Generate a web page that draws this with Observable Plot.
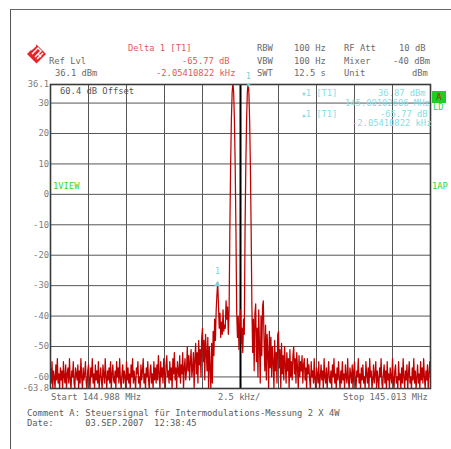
<!DOCTYPE html>
<html>
<head>
<meta charset="utf-8">
<script src="https://cdn.jsdelivr.net/npm/d3@7"></script>
<script src="https://cdn.jsdelivr.net/npm/@observablehq/plot@0.6"></script>
<style>
html,body{margin:0;padding:0;background:#fff;}
#wrap{position:relative;width:451px;height:449px;overflow:hidden;font-family:"DejaVu Sans Mono",monospace;font-size:8.8px;}
#wrap svg{position:absolute;left:0;top:0;}
.t{position:absolute;white-space:pre;line-height:8.8px;z-index:2;}
.g{color:#6a6a6a;}
.r{color:#e05a5a;}
.c{color:#86dde4;}
.gr{color:#33d633;}
#border{position:absolute;left:10px;top:9px;width:460px;height:460px;border-top:1px solid #666;border-left:1px solid #555;}
</style>
</head>
<body>
<div id="wrap">
  <div id="border"></div>
  <svg width="451" height="449" style="z-index:3" id="logo">
    <polygon points="36.5,44.5 46,54 36.5,63.5 27,54" fill="#e2262a"/>
    <polyline points="31,50 36,45.5" stroke="#fff" stroke-width="1.4" fill="none"/>
    <polyline points="32,54 38,48 41,51 35,57" stroke="#fff" stroke-width="1.4" fill="none"/>
    <polyline points="37,59 43,53" stroke="#fff" stroke-width="1.4" fill="none"/>
    <polyline points="38,54 41,57" stroke="#fff" stroke-width="1.2" fill="none"/>
  </svg>

  <div class="t g" style="left:49px;top:56.5px">Ref Lvl</div>
  <div class="t g" style="left:55px;top:68.5px">36.1 dBm</div>
  <div class="t r" style="left:128px;top:43.5px">Delta 1 [T1]</div>
  <div class="t r" style="left:182px;top:56.5px">-65.77 dB</div>
  <div class="t r" style="left:156px;top:68.5px">-2.05410822 kHz</div>

  <div class="t g" style="left:257px;top:43.5px">RBW</div>
  <div class="t g" style="left:294px;top:43.5px">100 Hz</div>
  <div class="t g" style="left:344px;top:43.5px">RF Att</div>
  <div class="t g" style="left:399px;top:43.5px">10 dB</div>
  <div class="t g" style="left:257px;top:56.5px">VBW</div>
  <div class="t g" style="left:294px;top:56.5px">100 Hz</div>
  <div class="t g" style="left:344px;top:56.5px">Mixer</div>
  <div class="t g" style="left:393px;top:56.5px">-40 dBm</div>
  <div class="t g" style="left:257px;top:68.5px">SWT</div>
  <div class="t g" style="left:294px;top:68.5px">12.5 s</div>
  <div class="t g" style="left:344px;top:68.5px">Unit</div>
  <div class="t g" style="left:412px;top:68.5px">dBm</div>

  <div class="t" style="left:60px;top:86.5px;color:#555">60.4 dB Offset</div>

  <div class="t c" style="left:302px;top:88.5px"><span style="font-size:6px">▼</span>1 [T1]</div>
  <div class="t c" style="left:378px;top:88.5px">36.87 dBm</div>
  <div class="t c" style="left:345px;top:99px">145.00102606 MHz</div>
  <div class="t c" style="left:302px;top:109.5px"><span style="font-size:6px">▲</span>1 [T1]</div>
  <div class="t c" style="left:380px;top:109.5px">-65.77 dB</div>
  <div class="t c" style="left:352px;top:118.5px">-2.05410822 kHz</div>

  <div class="t" style="left:432px;top:91px;width:14px;height:12px;background:#22cc22;color:#a03010;text-align:center;line-height:12px">A</div>
  <div class="t gr" style="left:433px;top:102.5px">LD</div>
  <div class="t gr" style="left:53px;top:181.5px">1VIEW</div>
  <div class="t gr" style="left:432px;top:181.5px">1AP</div>

  <div class="t g" style="left:51px;top:392.5px">Start 144.988 MHz</div>
  <div class="t g" style="left:218px;top:392.5px">2.5 kHz/</div>
  <div class="t g" style="left:343px;top:392.5px">Stop 145.013 MHz</div>

  <div class="t" style="left:27px;top:408.5px;color:#5a5a5a">Comment A: Steuersignal für Intermodulations-Messung 2 X 4W</div>
  <div class="t" style="left:27px;top:418.5px;color:#5a5a5a">Date:      03.SEP.2007  12:38:45</div>
</div>
<script>
// Sweep settings (MHz)
const fStart = 144.988;
const fStop = 145.013;
const fStep = 0.00005;           // 501 sweep points
const refLevel = 36.1;
const bottomLevel = -63.8;
const centerFreq = 145.0005;

// Grid and tick labels
const xGrid = [144.988, 144.9905, 144.993, 144.9955, 144.998, 145.0005, 145.003, 145.0055, 145.008, 145.0105, 145.013];
const yGrid = [30, 20, 10, 0, -10, -20, -30, -40, -50, -60];
const yTicks = [36.1, 30, 20, 10, 0, -10, -20, -30, -40, -50, -60, -63.8];

// Markers
const marker1 = [{f: 145.00102606, db: 36.87}];
const deltaMarker = [{f: 144.99897195, db: -28.9}];

// Trace levels (dBm), one per sweep point
const traceDb = [
-57,-62,-55,-64,-58,-60,-64,-56,-61,-54,
-62,-59,-64,-57,-61,-58,-64,-55,-60,-62,
-56,-64,-59,-57,-62,-54,-61,-64,-58,-60,
-55,-62,-64,-57,-59,-61,-56,-64,-58,-62,
-54,-60,-64,-57,-61,-59,-55,-62,-64,-58,
-56,-61,-64,-57,-60,-54,-62,-59,-64,-56,
-61,-58,-62,-55,-64,-60,-57,-61,-64,-56,
-59,-62,-54,-60,-64,-58,-61,-57,-62,-55,
-64,-59,-56,-61,-62,-58,-64,-55,-60,-57,
-62,-54,-61,-64,-59,-56,-62,-58,-60,-64,
-55,-61,-57,-62,-59,-64,-56,-60,-54,-62,
-58,-61,-64,-57,-59,-55,-62,-60,-64,-56,
-61,-58,-54,-62,-59,-64,-57,-60,-55,-61,
-64,-58,-56,-62,-59,-64,-55,-61,-57,-62,
-56,-61,-53,-59,-64,-55,-60,-57,-62,-54,
-59,-64,-56,-53,-60,-58,-62,-55,-61,-57,
-64,-54,-59,-52,-61,-57,-64,-55,-58,-60,
-53,-62,-56,-59,-52,-64,-57,-54,-61,-58,
-50,-58,-53,-61,-55,-51,-60,-57,-52,-64,
-54,-49,-59,-52,-62,-48,-56,-51,-60,-47,
-44,-55,-48,-61,-46,-52,-58,-47,-64,-50,
-57,-64,-49,-62,-45,-53,-41,-48,-38,-33,
-28.9,-36,-44,-39,-47,-42,-46,-38,-45,-43,
-44,-35,-41,-37,-46,-38,-11.5,9.5,24.5,33.5,
36.5,33.5,24.5,9.5,-11.5,-39,-47,-40,-51,-43,
-38,-49,-44,-52,-41,-46,-11.5,9.5,24.5,33.5,
36.87,33.5,24.5,9.5,-11.5,-37,-52,-41,-58,-39,
-36,-55,-44,-60,-38,-50,-62,-40,-53,-37,
-35,-48,-58,-43,-61,-46,-52,-64,-45,-57,
-47,-60,-50,-55,-64,-48,-58,-52,-62,-46,
-45,-57,-51,-64,-49,-59,-53,-61,-50,-56,
-62,-52,-58,-54,-64,-51,-60,-55,-61,-53,
-50,-59,-54,-62,-52,-57,-64,-53,-60,-55,
-58,-53,-62,-56,-54,-61,-57,-64,-54,-59,
-56,-61,-64,-55,-60,-58,-62,-54,-61,-64,
-57,-59,-62,-55,-64,-60,-56,-61,-58,-64,
-54,-60,-62,-57,-64,-59,-55,-61,-62,-58,
-64,-56,-60,-54,-62,-59,-64,-57,-61,-55,
-60,-64,-58,-62,-55,-61,-59,-64,-56,-60,
-62,-54,-61,-64,-57,-59,-62,-56,-64,-58,
-55,-61,-64,-58,-60,-54,-62,-59,-64,-57,
-61,-56,-62,-60,-64,-55,-59,-62,-57,-64,
-54,-60,-58,-64,-61,-56,-62,-59,-55,-64,
-58,-61,-64,-57,-60,-54,-62,-64,-59,-56,
-62,-58,-64,-55,-61,-59,-64,-57,-60,-62,
-54,-61,-64,-58,-56,-62,-60,-64,-55,-61,
-59,-64,-57,-62,-54,-60,-64,-58,-61,-56,
-64,-59,-55,-62,-60,-64,-57,-61,-54,-62,
-58,-64,-60,-56,-62,-59,-64,-55,-61,-57,
-62,-54,-60,-64,-58,-61,-56,-64,-59,-55,
-60
];

const trace = traceDb.map((db, i) => ({f: fStart + i * fStep, db}));
const cyan = "#6fd6df";
const mono = "DejaVu Sans Mono, monospace";

const chart = Plot.plot({
  width: 451,
  height: 449,
  marginTop: 84,
  marginBottom: 61,
  marginLeft: 50,
  marginRight: 21,
  x: {domain: [fStart, fStop], axis: null},
  y: {domain: [bottomLevel, refLevel], axis: null},
  style: {background: "transparent", fontFamily: mono, fontSize: "8.8px", overflow: "visible"},
  marks: [
    Plot.ruleY(yGrid, {stroke: "#555", strokeWidth: 1}),
    Plot.ruleX(xGrid, {stroke: "#555", strokeWidth: 1}),
    Plot.ruleX([centerFreq], {stroke: "#000", strokeWidth: 2}),
    Plot.line(trace, {x: "f", y: "db", stroke: "#c00000", strokeWidth: 1.25, clip: true}),
    Plot.frame({stroke: "#3a3a3a", strokeWidth: 1.6}),
    Plot.axisY(yTicks, {tickSize: 0, tickPadding: 1.5, tickFormat: d => String(d), fill: "#7c7c7c", fontSize: 8.8, fontFamily: mono, label: null}),
    Plot.text(marker1, {x: "f", frameAnchor: "top", text: () => "▼", dy: -2, fill: cyan, fontSize: 6, fontFamily: mono}),
    Plot.text(marker1, {x: "f", frameAnchor: "top", text: () => "1", dy: -12, fill: cyan, fontSize: 8.8, fontFamily: mono}),
    Plot.dot(deltaMarker, {x: "f", y: "db", symbol: "triangle", r: 2.2, fill: cyan, dy: 2}),
    Plot.text(deltaMarker, {x: "f", y: "db", text: () => "1", dy: -11, fill: cyan, fontSize: 8.8, fontFamily: mono})
  ]
});
document.getElementById("wrap").appendChild(chart);
</script>
</body>
</html>
